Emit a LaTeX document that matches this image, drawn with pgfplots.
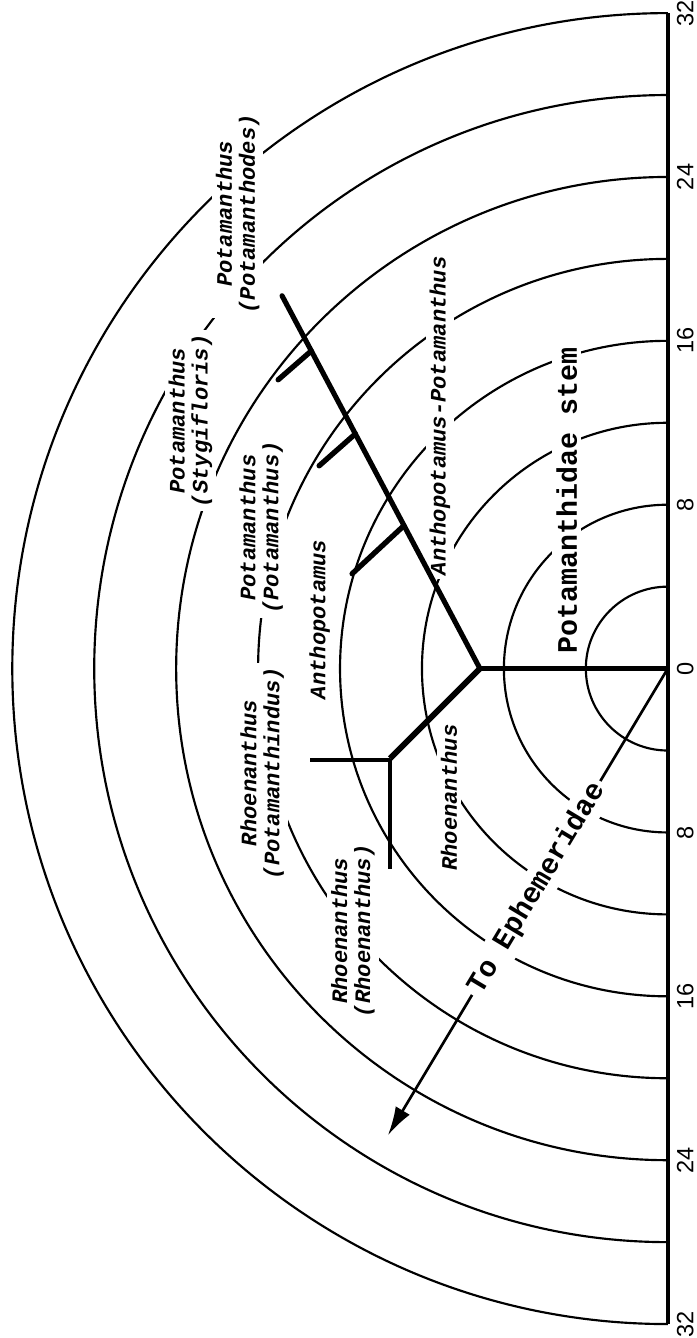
\documentclass[border=0pt]{standalone}
\usepackage{fontspec}
\setmainfont{Liberation Serif}
\setsansfont{Liberation Sans}
\setmonofont{Liberation Mono}
\usepackage{pgfplots}
\pgfplotsset{compat=1.18}
\usetikzlibrary{arrows.meta}
\begin{document}
\begin{tikzpicture}
\begin{axis}[
  x=10pt, y=10pt,
  xmin=-32.6, xmax=0, ymin=-32, ymax=32,
  axis x line=none,
  axis y line=right,
  y axis line style={-, line width=1.9pt},
  ytick={-32,-24,-16,-8,0,8,16,24,32},
  yticklabels={32,24,16,8,0,8,16,24,32},
  major tick length=0pt,
  yticklabel shift=4.3pt,
  yticklabel style={rotate=90, anchor=north, inner sep=0pt, font=\sffamily\fontsize{11.5}{13}\selectfont},
  clip=false,
]
% time circles
\pgfplotsinvokeforeach{4,8,12,16,20,24,28,32}{
  \draw[line width=1.05pt] (axis cs:0,#1) arc[start angle=90, end angle=270, radius=#1*10pt];
}
% arrow to Ephemeridae
\addplot[line width=1.3pt, -{Latex[length=14pt,width=8pt]}] coordinates {(0,0) (-13.66,-22.78)};
% labels
\tikzset{lab/.style={rotate=90, fill=white, inner sep=2pt, align=center, font=\ttfamily\bfseries\itshape\fontsize{10.8}{11.2}\selectfont}}
\node[lab] at (axis cs:-21.0,22.2) {Potamanthus\\(Potamanthodes)};
\node[lab] at (axis cs:-23.3,12.1) {Potamanthus\\(Stygifloris)};
\node[lab] at (axis cs:-19.85,6.88) {Potamanthus\\(Potamanthus)};
\node[lab] at (axis cs:-17.0,2.4) {Anthopotamus};
\node[lab] at (axis cs:-11.12,12.34) {Anthopotamus-Potamanthus};
\node[lab] at (axis cs:-19.8,-5.1) {Rhoenanthus\\(Potamanthindus)};
\node[lab] at (axis cs:-15.37,-12.8) {Rhoenanthus\\(Rhoenanthus)};
\node[lab] at (axis cs:-10.68,-6.3) {Rhoenanthus};
\node[rotate=90, fill=white, inner sep=2pt, font=\ttfamily\bfseries\fontsize{13.8}{15}\selectfont] at (axis cs:-4.93,8.2) {Potamanthidae stem};
\node[rotate=59, fill=white, inner sep=2pt, font=\ttfamily\bfseries\fontsize{14}{15}\selectfont] at (axis cs:-6.39,-10.73) {To Ephemeridae};
% tree
\addplot[line width=2.3pt] coordinates {(0,0) (-9.17,0)};
\addplot[line width=2.5pt, line join=round, line cap=round] coordinates {(-9.17,0) (-18.83,18.2)};
\addplot[line width=2.8pt, line join=round] coordinates {(-9.17,0) (-13.56,-4.39)};
\addplot[line width=2.1pt] coordinates {(-13.56,-4.45) (-17.46,-4.45)};
\addplot[line width=1.9pt] coordinates {(-13.56,-4.39) (-13.56,-9.8)};
\addplot[line width=2.6pt, line cap=round] coordinates {(-12.88,6.98) (-15.41,4.63)};
\addplot[line width=2.6pt, line cap=round] coordinates {(-15.25,11.46) (-17.02,9.90)};
\addplot[line width=2.6pt, line cap=round] coordinates {(-17.40,15.51) (-19.02,14.10)};
% page extent
\path (axis cs:-32.6,32.59) (axis cs:1.41,-32.68);
\end{axis}
\end{tikzpicture}
\end{document}
